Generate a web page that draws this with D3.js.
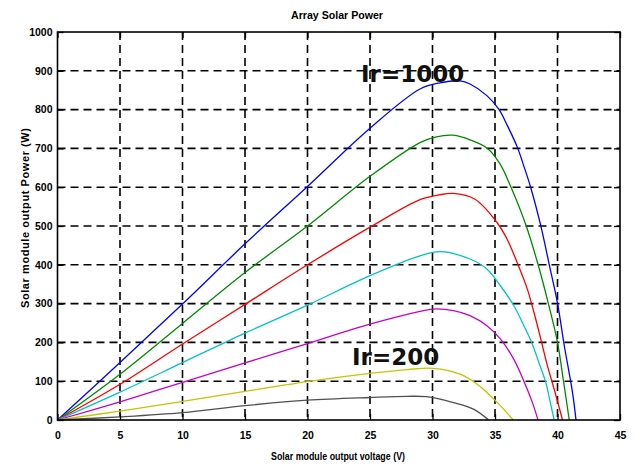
<!DOCTYPE html>
<html>
<head>
<meta charset="utf-8">
<script src="https://cdn.jsdelivr.net/npm/d3@7"></script>
<style>
  body { margin: 0; background: #fff; }
  svg { display: block; }
  .tick text { font-family: "Liberation Sans", Arial, sans-serif; font-weight: bold; font-size: 10.5px; fill: #000; }
  .tick line { stroke: #000; stroke-width: 1.3; }
  .grid line { stroke: #000; stroke-width: 1.6; stroke-dasharray: 8,5; }
  .lbl { font-family: "Liberation Sans", Arial, sans-serif; font-weight: bold; font-size: 11px; }
</style>
</head>
<body>
<svg width="634" height="468"></svg>
<script>
// tick labels
const xTicks = [0, 5, 10, 15, 20, 25, 30, 35, 40, 45];
const yTicks = [0, 100, 200, 300, 400, 500, 600, 700, 800, 900, 1000];

// [voltage, power], one array per curve
const curveBlue = [[0,0],[5,148],[10,299],[15,454],[20,602],[25,752],[29,853],[30.6,869],[32.2,874],[33,866],[34.35,836],[35.3,801],[36,758],[36.8,702],[37.3,655],[37.85,600],[38.66,501],[39.33,402],[40,301],[40.54,192],[41.2,71],[41.48,0]];
const curveGreen = [[0,0],[5,118],[10,249],[15,380],[20,500],[25,628],[29,715],[30.3,730],[31.67,734],[33,722],[34.4,700],[35.4,660],[36.24,603],[37.5,500],[38.45,400],[39.27,300],[40,200],[40.48,100],[40.94,0]];
const curveRed = [[0,0],[5,92],[10,196],[15,298],[20,400],[25,497],[29,568],[30.5,580],[31.67,584],[33.4,569],[35.16,509],[35.97,466],[36.77,406],[37.58,338],[38.12,277],[38.66,209],[39.19,140],[39.73,80],[40.4,0]];
const curveCyan = [[0,0],[5,72],[10,148],[15,224],[20,296],[25,372],[29,423],[30.6,434],[33,415],[34.35,389],[35.43,346],[36.5,295],[37.31,243],[37.98,196],[38.5,149],[39.06,97],[39.46,40],[39.73,0]];
const curveMagenta = [[0,0],[5,47],[10,97],[15,147],[20,197],[25,247],[29,280],[30.05,286],[31.67,282],[33,269],[34.35,243],[35.43,209],[36.5,157],[37.31,100],[37.98,46],[38.44,0]];
const curveYellow = [[0,0],[5,23],[10,48],[15,74],[20,99],[25,120],[28,130],[30.05,133],[32.2,118],[33.55,93],[34.35,71],[35.43,37],[36.45,0]];
const curveGray = [[0,0],[5,8],[10,19],[15,37],[20,51],[25,58],[28,61],[29.5,60],[31.67,45],[33.28,28],[34.49,0]];

const curves = [curveBlue, curveGreen, curveRed, curveCyan, curveMagenta, curveYellow, curveGray];
const colors = ["#0000ff", "#008a00", "#ff0000", "#00c4c4", "#c800c8", "#c4c400", "#505050"];

const svg = d3.select("svg");
const plotLeft = 57.5, plotRight = 620, plotTop = 32, plotBottom = 420;

const x = d3.scaleLinear().domain([0, 45]).range([plotLeft, plotRight]);
const y = d3.scaleLinear().domain([0, 1000]).range([plotBottom, plotTop]);

// dashed grid
svg.append("g").attr("class", "grid")
  .selectAll("line")
  .data(xTicks.slice(1, -1))
  .enter().append("line")
    .attr("x1", d => x(d)).attr("x2", d => x(d))
    .attr("y1", plotTop).attr("y2", plotBottom);

svg.append("g").attr("class", "grid")
  .selectAll("line")
  .data(yTicks.slice(1, -1))
  .enter().append("line")
    .attr("x1", plotLeft).attr("x2", plotRight)
    .attr("y1", d => y(d)).attr("y2", d => y(d));

// curves
const line = d3.line()
  .x(d => x(d[0]))
  .y(d => y(d[1]))
  .curve(d3.curveCatmullRom.alpha(0.5));

svg.append("g")
  .selectAll("path")
  .data(curves)
  .enter().append("path")
    .attr("d", line)
    .attr("fill", "none")
    .attr("stroke", (d, i) => colors[i])
    .attr("stroke-width", 1.3);

// axes, ticks pointing inward
svg.append("g")
  .attr("transform", `translate(0,${plotBottom})`)
  .call(d3.axisBottom(x).tickValues(xTicks).tickSize(-6).tickPadding(12));
svg.append("g")
  .attr("transform", `translate(${plotLeft},0)`)
  .call(d3.axisLeft(y).tickValues(yTicks).tickFormat(d3.format("d")).tickSize(-6).tickPadding(5));
svg.append("g")
  .attr("transform", `translate(0,${plotTop})`)
  .call(d3.axisTop(x).tickValues(xTicks).tickSize(-6).tickFormat(""));
svg.append("g")
  .attr("transform", `translate(${plotRight},0)`)
  .call(d3.axisRight(y).tickValues(yTicks).tickSize(-6).tickFormat(""));
svg.selectAll(".domain").remove();

// frame
svg.append("rect")
  .attr("x", plotLeft).attr("y", plotTop)
  .attr("width", plotRight - plotLeft).attr("height", plotBottom - plotTop)
  .attr("fill", "none")
  .attr("stroke", "#000")
  .attr("stroke-width", 1.6);

// titles
svg.append("text")
  .attr("class", "lbl")
  .attr("x", 337).attr("y", 19)
  .attr("text-anchor", "middle")
  .attr("textLength", 92)
  .attr("lengthAdjust", "spacingAndGlyphs")
  .text("Array Solar Power");

svg.append("text")
  .attr("class", "lbl")
  .attr("x", 338).attr("y", 460)
  .attr("text-anchor", "middle")
  .attr("textLength", 134)
  .attr("lengthAdjust", "spacingAndGlyphs")
  .text("Solar module output voltage (V)");

svg.append("text")
  .attr("class", "lbl")
  .attr("transform", "translate(29,218) rotate(-90)")
  .attr("text-anchor", "middle")
  .attr("textLength", 180)
  .attr("lengthAdjust", "spacing")
  .text("Solar module output Power (W)");

// curve labels
svg.append("text")
  .attr("x", 361).attr("y", 82)
  .style("font", "bold 23px 'DejaVu Sans', sans-serif")
  .attr("fill", "#111")
  .text("Ir=1000");

svg.append("text")
  .attr("x", 352).attr("y", 365)
  .style("font", "bold 23px 'DejaVu Sans', sans-serif")
  .attr("fill", "#111")
  .text("Ir=200");
</script>
</body>
</html>
